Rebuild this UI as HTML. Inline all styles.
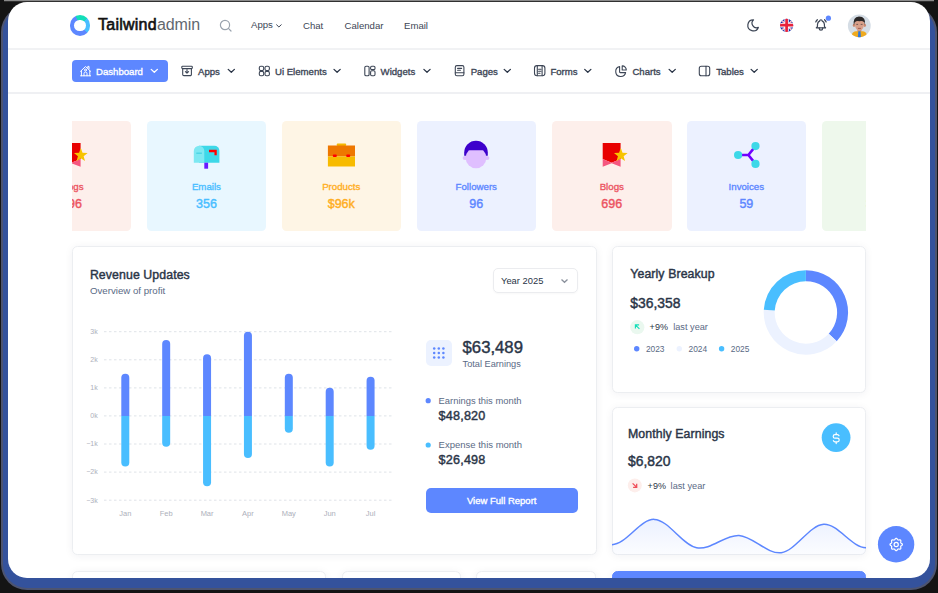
<!DOCTYPE html>
<html><head><meta charset="utf-8"><style>
*{margin:0;padding:0;box-sizing:border-box}
html,body{width:938px;height:593px;overflow:hidden;background:#141414;font-family:"Liberation Sans",sans-serif;color:#2a3547}
.band{position:absolute;left:3px;top:8px;width:932px;height:580px;border-radius:24px;background:#34529c;box-shadow:0 0 0 2px #4d5470}
.top{position:absolute;left:4px;top:0;width:930px;height:2px;background:linear-gradient(#8a8a8a 0 1px,#303030 1px 2px)}
.frame{position:absolute;left:8px;top:2px;width:922px;height:576px;border-radius:19px;background:#fff;overflow:hidden}
.pg{position:absolute;left:-8px;top:-2px;width:938px;height:593px}
.a{position:absolute}
.t{position:absolute;white-space:nowrap;line-height:1}
svg{position:absolute;overflow:visible}
.hdr{position:absolute;left:0;top:0;width:938px;height:50px;border-bottom:2px solid #f1f2f4}
.nav2{position:absolute;left:0;top:50px;width:938px;height:44px;background:#fff;border-bottom:2px solid #eff0f3}
.logo{position:absolute;left:69.5px;top:15.1px;width:20.6px;height:20.6px;border-radius:50%;background:conic-gradient(from -25deg,#13deb9 0 69deg,#49beff 69deg 160deg,#5d87ff 160deg 360deg)}
.logo:after{content:"";position:absolute;left:4.5px;top:4.5px;width:11.6px;height:11.6px;border-radius:50%;background:#fff}
.car{position:absolute;left:72px;top:121px;width:794px;height:110px;overflow:hidden}
.sc{position:absolute;top:0;width:119.5px;height:110px;border-radius:4.5px}
.sc .lb{position:absolute;left:0;width:100%;top:60px;text-align:center;font-size:9px;font-weight:700;line-height:1}
.sc .vl{position:absolute;left:0;width:100%;top:75px;text-align:center;font-size:12.8px;font-weight:700;line-height:1}
.sc svg{left:0;top:0}
.card{position:absolute;background:#fff;border:1px solid #eceef1;border-radius:5.5px;box-shadow:0 1px 8px rgba(30,40,60,0.06)}
</style></head><body>
<div class="band"></div><div class="top"></div>
<div class="frame"><div class="pg">
<div class="hdr"></div><div class="nav2"></div>
<div class="logo"></div>
<div class="t" style="left:98px;top:17px;font-size:16px;color:#111"><span style="letter-spacing:0.25px;-webkit-text-stroke:0.6px #111">Tailwind</span><span style="color:#62686f;letter-spacing:-0.1px">admin</span></div>
<svg style="left:219px;top:19px" width="14" height="14" viewBox="0 0 14 14"><circle cx="6" cy="6" r="4.6" fill="none" stroke="#9aa3ae" stroke-width="1.2"/><path d="M9.4 9.4 L12 12" stroke="#9aa3ae" stroke-width="1.2" stroke-linecap="round"/></svg>
<div class="t " style="left:251.0px;top:20.00px;font-size:9.6px;color:#3d4656;">Apps</div>
<svg style="left:275px;top:22.5px" width="8" height="6" viewBox="0 0 8 6"><path d="M1.3 1.5L3.9 4L6.5 1.5" fill="none" stroke="#3d4656" stroke-width="1"/></svg>
<div class="t " style="left:303.0px;top:21.00px;font-size:9.6px;color:#3d4656;">Chat</div>
<div class="t " style="left:344.5px;top:21.00px;font-size:9.6px;color:#3d4656;">Calendar</div>
<div class="t " style="left:404.0px;top:21.00px;font-size:9.6px;color:#3d4656;">Email</div>
<div class="a" style="left:72px;top:60px;width:96px;height:22px;border-radius:4px;background:#5d87ff"></div>
<div class="t " style="left:96.0px;top:67.00px;font-size:9.6px;color:#fff;-webkit-text-stroke:0.34px #fff;">Dashboard</div>
<div class="t " style="left:198.0px;top:67.00px;font-size:9.6px;color:#3d4656;-webkit-text-stroke:0.34px #3d4656;">Apps</div>
<div class="t " style="left:275.0px;top:67.00px;font-size:9.6px;color:#3d4656;-webkit-text-stroke:0.34px #3d4656;">Ui Elements</div>
<div class="t " style="left:380.6px;top:67.00px;font-size:9.6px;color:#3d4656;-webkit-text-stroke:0.34px #3d4656;">Widgets</div>
<div class="t " style="left:470.7px;top:67.00px;font-size:9.6px;color:#3d4656;-webkit-text-stroke:0.34px #3d4656;">Pages</div>
<div class="t " style="left:550.4px;top:67.00px;font-size:9.6px;color:#3d4656;-webkit-text-stroke:0.34px #3d4656;">Forms</div>
<div class="t " style="left:632.4px;top:67.00px;font-size:9.6px;color:#3d4656;-webkit-text-stroke:0.34px #3d4656;">Charts</div>
<div class="t " style="left:716.2px;top:67.00px;font-size:9.6px;color:#3d4656;-webkit-text-stroke:0.34px #3d4656;">Tables</div>
<div class="car">
<div class="sc" style="left:-60.3px;background:#fdefeb"><svg viewBox="0 0 119.5 110" width="119.5" height="110"><path d="M50.7 22H68.6V38L59.65 41.7L50.7 38Z" fill="#e80000"/><path d="M50.7 38L59.65 41.7L68.6 38V45.7L59.65 42.3L50.7 45.7Z" fill="#f5577f"/><path d="M68.80 27.00L70.56 31.77L75.65 31.98L71.65 35.13L73.03 40.02L68.80 37.20L64.57 40.02L65.95 35.13L61.95 31.98L67.04 31.77Z" fill="#f7c400"/></svg></div><div class="t lbx " style="left:-60.3px;width:119.5px;text-align:center;top:61.00px;font-size:9.7px;color:#ec5462;-webkit-text-stroke:0.34px #ec5462;">Blogs</div><div class="t " style="left:-60.3px;width:119.5px;text-align:center;top:77.00px;font-size:12.5px;color:#ec5462;-webkit-text-stroke:0.42px #ec5462;">696</div>
<div class="sc" style="left:74.7px;background:#e8f7ff"><svg viewBox="0 0 119.5 110" width="119.5" height="110"><path d="M52 24.8H67.4A5 5 0 0 1 72.4 29.8V41.7H52Z" fill="#3dd8e8"/><path d="M46.8 41.7V30.05A5.25 5.25 0 0 1 57.3 30.05V41.7Z" fill="#7de8f2"/><path d="M49.3 32.2H54.9" stroke="#4dd6e6" stroke-width="1.4"/><path d="M62 30H68.6V34.2" fill="none" stroke="#f00" stroke-width="2.3"/><rect x="57.3" y="41.7" width="3.8" height="6" fill="#6a1aff"/></svg></div><div class="t lbx " style="left:74.7px;width:119.5px;text-align:center;top:61.00px;font-size:9.7px;color:#49beff;-webkit-text-stroke:0.34px #49beff;">Emails</div><div class="t " style="left:74.7px;width:119.5px;text-align:center;top:77.00px;font-size:12.5px;color:#49beff;-webkit-text-stroke:0.42px #49beff;">356</div>
<div class="sc" style="left:209.5px;background:#fef5e5"><svg viewBox="0 0 119.5 110" width="119.5" height="110"><rect x="54.7" y="22.4" width="9.5" height="2.5" rx="1" fill="#f5b800"/><rect x="45.9" y="24.5" width="27.1" height="11" fill="#ee7700"/><rect x="45.9" y="35.5" width="27.1" height="10" fill="#f7bb00"/><rect x="50.8" y="33.4" width="4" height="2.6" rx="1" fill="#f00"/><rect x="64.2" y="33.4" width="4" height="2.6" rx="1" fill="#f00"/></svg></div><div class="t lbx " style="left:209.5px;width:119.5px;text-align:center;top:61.00px;font-size:9.7px;color:#ffae1f;-webkit-text-stroke:0.34px #ffae1f;">Products</div><div class="t " style="left:209.5px;width:119.5px;text-align:center;top:77.00px;font-size:12.5px;color:#ffae1f;-webkit-text-stroke:0.42px #ffae1f;">$96k</div>
<div class="sc" style="left:344.5px;background:#ecf1ff"><svg viewBox="0 0 119.5 110" width="119.5" height="110"><defs><clipPath id="fc"><rect x="40" y="29.5" width="40" height="30"/></clipPath></defs><g transform="translate(-0.6,-0.3)"><path d="M47.8 35V31.8A11.8 11.8 0 0 1 71.4 31.8V35Z" fill="#3d00cc"/><circle cx="59.6" cy="37.2" r="10.3" fill="#dfbfff" clip-path="url(#fc)"/><ellipse cx="48.6" cy="37.3" rx="2.4" ry="2.1" fill="#dfbfff"/><ellipse cx="70.6" cy="37.3" rx="2.4" ry="2.1" fill="#dfbfff"/></g></svg></div><div class="t lbx " style="left:344.5px;width:119.5px;text-align:center;top:61.00px;font-size:9.7px;color:#5d87ff;-webkit-text-stroke:0.34px #5d87ff;">Followers</div><div class="t " style="left:344.5px;width:119.5px;text-align:center;top:77.00px;font-size:12.5px;color:#5d87ff;-webkit-text-stroke:0.42px #5d87ff;">96</div>
<div class="sc" style="left:480px;background:#fdefeb"><svg viewBox="0 0 119.5 110" width="119.5" height="110"><path d="M50.7 22H68.6V38L59.65 41.7L50.7 38Z" fill="#e80000"/><path d="M50.7 38L59.65 41.7L68.6 38V45.7L59.65 42.3L50.7 45.7Z" fill="#f5577f"/><path d="M68.80 27.00L70.56 31.77L75.65 31.98L71.65 35.13L73.03 40.02L68.80 37.20L64.57 40.02L65.95 35.13L61.95 31.98L67.04 31.77Z" fill="#f7c400"/></svg></div><div class="t lbx " style="left:480.0px;width:119.5px;text-align:center;top:61.00px;font-size:9.7px;color:#ec5462;-webkit-text-stroke:0.34px #ec5462;">Blogs</div><div class="t " style="left:480.0px;width:119.5px;text-align:center;top:77.00px;font-size:12.5px;color:#ec5462;-webkit-text-stroke:0.42px #ec5462;">696</div>
<div class="sc" style="left:614.6px;background:#ecf1ff"><svg viewBox="0 0 119.5 110" width="119.5" height="110"><path d="M51.1 34H61.4L68.5 25.1M61.4 34L68.5 42.9" fill="none" stroke="#7000ff" stroke-width="2.6"/><circle cx="51.1" cy="34" r="4.1" fill="#3dd8e8"/><circle cx="68.5" cy="25.1" r="4.1" fill="#3dd8e8"/><circle cx="68.5" cy="42.9" r="4.1" fill="#3dd8e8"/></svg></div><div class="t lbx " style="left:614.6px;width:119.5px;text-align:center;top:61.00px;font-size:9.7px;color:#5d87ff;-webkit-text-stroke:0.34px #5d87ff;">Invoices</div><div class="t " style="left:614.6px;width:119.5px;text-align:center;top:77.00px;font-size:12.5px;color:#5d87ff;-webkit-text-stroke:0.42px #5d87ff;">59</div>
<div class="sc" style="left:749.7px;background:#eef8ec"></div><div class="t lbx " style="left:749.7px;width:119.5px;text-align:center;top:61.00px;font-size:9.7px;color:#13deb9;-webkit-text-stroke:0.34px #13deb9;">Sales</div><div class="t " style="left:749.7px;width:119.5px;text-align:center;top:77.00px;font-size:12.5px;color:#13deb9;-webkit-text-stroke:0.42px #13deb9;">3,650</div>
</div>
<div class="card" style="left:71.5px;top:246px;width:525.3px;height:309px"></div>
<div class="card" style="left:611.8px;top:246px;width:254.6px;height:146.6px"></div>
<div class="card" style="left:611.8px;top:407.4px;width:254.6px;height:147.6px"></div>
<div class="card" style="left:72px;top:570.5px;width:254px;height:60px"></div>
<div class="card" style="left:341.7px;top:570.5px;width:119px;height:60px"></div>
<div class="card" style="left:476.4px;top:570.5px;width:120px;height:60px"></div>
<div class="card" style="left:612.3px;top:570.5px;width:254px;height:60px;background:#5d87ff;border-color:#5d87ff"></div>
<div class="t " style="left:89.9px;top:269.00px;font-size:12.3px;color:#2a3547;-webkit-text-stroke:0.42px #2a3547;letter-spacing:0.1px;">Revenue Updates</div>
<div class="t " style="left:89.9px;top:286.00px;font-size:9.7px;color:#5a6a85;">Overview of profit</div>
<div class="a" style="left:492.5px;top:268.4px;width:85px;height:25px;border:1px solid #ebecef;border-radius:5px;box-shadow:0 1px 2px rgba(0,0,0,0.03)"></div>
<div class="t " style="left:501.0px;top:276.00px;font-size:9.4px;color:#2a3547;">Year 2025</div>
<svg style="left:560px;top:278px" width="9" height="6" viewBox="0 0 9 6"><path d="M1.5 1.5L4.5 4.3L7.5 1.5" fill="none" stroke="#8a919c" stroke-width="1.3"/></svg>
<svg style="left:0;top:0" width="938" height="593"><line x1="104" y1="331.7" x2="391.5" y2="331.7" stroke="#dfe3e8" stroke-width="1" stroke-dasharray="2.5 2.5"/><line x1="104" y1="359.8" x2="391.5" y2="359.8" stroke="#dfe3e8" stroke-width="1" stroke-dasharray="2.5 2.5"/><line x1="104" y1="387.9" x2="391.5" y2="387.9" stroke="#dfe3e8" stroke-width="1" stroke-dasharray="2.5 2.5"/><line x1="104" y1="415.9" x2="391.5" y2="415.9" stroke="#dfe3e8" stroke-width="1" stroke-dasharray="2.5 2.5"/><line x1="104" y1="444.0" x2="391.5" y2="444.0" stroke="#dfe3e8" stroke-width="1" stroke-dasharray="2.5 2.5"/><line x1="104" y1="472.1" x2="391.5" y2="472.1" stroke="#dfe3e8" stroke-width="1" stroke-dasharray="2.5 2.5"/><line x1="104" y1="500.2" x2="391.5" y2="500.2" stroke="#dfe3e8" stroke-width="1" stroke-dasharray="2.5 2.5"/><path d="M121.30 415.94V377.82A4 4 0 0 1 129.30 377.82V415.94Z" fill="#5d87ff"/><path d="M121.30 415.94V462.48A4 4 0 0 0 129.30 462.48V415.94Z" fill="#49beff"/><path d="M162.18 415.94V344.12A4 4 0 0 1 170.18 344.12V415.94Z" fill="#5d87ff"/><path d="M162.18 415.94V442.83A4 4 0 0 0 170.18 442.83V415.94Z" fill="#49beff"/><path d="M203.06 415.94V358.16A4 4 0 0 1 211.06 358.16V415.94Z" fill="#5d87ff"/><path d="M203.06 415.94V482.14A4 4 0 0 0 211.06 482.14V415.94Z" fill="#49beff"/><path d="M243.94 415.94V335.70A4 4 0 0 1 251.94 335.70V415.94Z" fill="#5d87ff"/><path d="M243.94 415.94V454.06A4 4 0 0 0 251.94 454.06V415.94Z" fill="#49beff"/><path d="M284.82 415.94V377.82A4 4 0 0 1 292.82 377.82V415.94Z" fill="#5d87ff"/><path d="M284.82 415.94V428.79A4 4 0 0 0 292.82 428.79V415.94Z" fill="#49beff"/><path d="M325.70 415.94V391.86A4 4 0 0 1 333.70 391.86V415.94Z" fill="#5d87ff"/><path d="M325.70 415.94V462.48A4 4 0 0 0 333.70 462.48V415.94Z" fill="#49beff"/><path d="M366.58 415.94V380.63A4 4 0 0 1 374.58 380.63V415.94Z" fill="#5d87ff"/><path d="M366.58 415.94V445.64A4 4 0 0 0 374.58 445.64V415.94Z" fill="#49beff"/></svg>
<div class="t " style="left:-2.3px;width:100px;text-align:right;top:328.00px;font-size:7px;color:#adb0bb;">3k</div>
<div class="t " style="left:-2.3px;width:100px;text-align:right;top:356.00px;font-size:7px;color:#adb0bb;">2k</div>
<div class="t " style="left:-2.3px;width:100px;text-align:right;top:384.00px;font-size:7px;color:#adb0bb;">1k</div>
<div class="t " style="left:-2.3px;width:100px;text-align:right;top:412.00px;font-size:7px;color:#adb0bb;">0k</div>
<div class="t " style="left:-2.3px;width:100px;text-align:right;top:440.00px;font-size:7px;color:#adb0bb;">&minus;1k</div>
<div class="t " style="left:-2.3px;width:100px;text-align:right;top:468.00px;font-size:7px;color:#adb0bb;">&minus;2k</div>
<div class="t " style="left:-2.3px;width:100px;text-align:right;top:497.00px;font-size:7px;color:#adb0bb;">&minus;3k</div>
<div class="t " style="left:105.3px;width:40px;text-align:center;top:510.00px;font-size:7.5px;color:#adb0bb;">Jan</div>
<div class="t " style="left:146.2px;width:40px;text-align:center;top:510.00px;font-size:7.5px;color:#adb0bb;">Feb</div>
<div class="t " style="left:187.1px;width:40px;text-align:center;top:510.00px;font-size:7.5px;color:#adb0bb;">Mar</div>
<div class="t " style="left:227.9px;width:40px;text-align:center;top:510.00px;font-size:7.5px;color:#adb0bb;">Apr</div>
<div class="t " style="left:268.8px;width:40px;text-align:center;top:510.00px;font-size:7.5px;color:#adb0bb;">May</div>
<div class="t " style="left:309.7px;width:40px;text-align:center;top:510.00px;font-size:7.5px;color:#adb0bb;">Jun</div>
<div class="t " style="left:350.6px;width:40px;text-align:center;top:510.00px;font-size:7.5px;color:#adb0bb;">Jul</div>
<div class="a" style="left:426px;top:339.8px;width:25.7px;height:26.6px;border-radius:5px;background:#ecf2ff"></div>
<svg style="left:0;top:0" width="938" height="593"><circle cx="434.2" cy="348.4" r="1.25" fill="#5d87ff"/><circle cx="434.2" cy="353.0" r="1.25" fill="#5d87ff"/><circle cx="434.2" cy="357.6" r="1.25" fill="#5d87ff"/><circle cx="438.8" cy="348.4" r="1.25" fill="#5d87ff"/><circle cx="438.8" cy="353.0" r="1.25" fill="#5d87ff"/><circle cx="438.8" cy="357.6" r="1.25" fill="#5d87ff"/><circle cx="443.4" cy="348.4" r="1.25" fill="#5d87ff"/><circle cx="443.4" cy="353.0" r="1.25" fill="#5d87ff"/><circle cx="443.4" cy="357.6" r="1.25" fill="#5d87ff"/></svg>
<div class="t " style="left:462.6px;top:340.00px;font-size:16.7px;color:#2a3547;-webkit-text-stroke:0.42px #2a3547;">$63,489</div>
<div class="t " style="left:462.6px;top:360.00px;font-size:9.2px;color:#5a6a85;">Total Earnings</div>
<svg style="left:0;top:0" width="938" height="593"><circle cx="428.2" cy="400.7" r="2.6" fill="#5d87ff"/><circle cx="428.2" cy="445" r="2.6" fill="#49beff"/></svg>
<div class="t " style="left:438.6px;top:396.00px;font-size:9.4px;color:#5a6a85;">Earnings this month</div>
<div class="t " style="left:438.6px;top:410.00px;font-size:12.6px;color:#2a3547;-webkit-text-stroke:0.42px #2a3547;letter-spacing:0.2px;">$48,820</div>
<div class="t " style="left:438.6px;top:440.00px;font-size:9.5px;color:#5a6a85;">Expense this month</div>
<div class="t " style="left:438.6px;top:454.00px;font-size:12.6px;color:#2a3547;-webkit-text-stroke:0.42px #2a3547;letter-spacing:0.2px;">$26,498</div>
<div class="a" style="left:425.7px;top:487.5px;width:152px;height:25.8px;border-radius:5px;background:#5d87ff"></div>
<div class="t " style="left:401.7px;width:200px;text-align:center;top:496.00px;font-size:9.5px;color:#fff;-webkit-text-stroke:0.34px #fff;">View Full Report</div>
<div class="t " style="left:630.3px;top:268.00px;font-size:12.3px;color:#2a3547;-webkit-text-stroke:0.42px #2a3547;letter-spacing:0.1px;">Yearly Breakup</div>
<div class="t " style="left:630.3px;top:297.00px;font-size:13.9px;color:#2a3547;-webkit-text-stroke:0.42px #2a3547;">$36,358</div>
<svg style="left:0;top:0" width="938" height="593"><circle cx="637.3" cy="327.2" r="7.1" fill="#eaf8ef"/><path d="M635.4 328.6V324.9H639.1M635.4 324.9L639.4 328.9" stroke="#13deb9" stroke-width="1.15" fill="none"/></svg>
<div class="t " style="left:649.6px;top:323.00px;font-size:9px;color:#2a3547;letter-spacing:0.1px;">+9%</div>
<div class="t " style="left:673.2px;top:323.00px;font-size:9.2px;color:#5a6a85;">last year</div>
<svg style="left:0;top:0" width="938" height="593"><circle cx="636.7" cy="348.8" r="2.7" fill="#5d87ff"/><circle cx="679.3" cy="348.8" r="2.7" fill="#ecf2ff"/><circle cx="721.6" cy="348.8" r="2.7" fill="#49beff"/></svg>
<div class="t " style="left:645.9px;top:345.00px;font-size:8.4px;color:#5a6a85;">2023</div>
<div class="t " style="left:688.5px;top:345.00px;font-size:8.4px;color:#5a6a85;">2024</div>
<div class="t " style="left:730.8px;top:345.00px;font-size:8.4px;color:#5a6a85;">2025</div>
<svg style="left:0;top:0" width="938" height="593"><path d="M805.90 270.20A42.2 42.2 0 0 1 836.76 341.18L828.72 333.68A31.2 31.2 0 0 0 805.90 281.20Z" fill="#5d87ff"/><path d="M836.76 341.18A42.2 42.2 0 0 1 763.78 309.82L774.76 310.50A31.2 31.2 0 0 0 828.72 333.68Z" fill="#ecf2ff"/><path d="M763.78 309.82A42.2 42.2 0 0 1 805.90 270.20L805.90 281.20A31.2 31.2 0 0 0 774.76 310.50Z" fill="#49beff"/></svg>
<div class="t " style="left:628.0px;top:428.00px;font-size:12.3px;color:#2a3547;-webkit-text-stroke:0.42px #2a3547;letter-spacing:0.1px;">Monthly Earnings</div>
<div class="t " style="left:628.0px;top:455.00px;font-size:13.9px;color:#2a3547;-webkit-text-stroke:0.42px #2a3547;">$6,820</div>
<svg style="left:0;top:0" width="938" height="593"><circle cx="634.8" cy="485.4" r="7" fill="#fdeeeb"/><path d="M632.6 483.4L636.7 487.3M633.1 487.3H636.7V483.7" stroke="#f0505a" stroke-width="1.3" fill="none"/></svg>
<div class="t " style="left:647.6px;top:482.00px;font-size:9px;color:#2a3547;letter-spacing:0.1px;">+9%</div>
<div class="t " style="left:670.6px;top:482.00px;font-size:9.2px;color:#5a6a85;">last year</div>
<svg style="left:0;top:0" width="938" height="593"><circle cx="836.1" cy="437.6" r="14.4" fill="#49beff"/></svg>
<div class="a" style="left:612px;top:408px;width:254px;height:147px;border-radius:5.5px;overflow:hidden"><svg style="left:-612px;top:-408px" width="938" height="593"><defs><linearGradient id="ag" x1="0" y1="0" x2="0" y2="1"><stop offset="0" stop-color="#5d87ff" stop-opacity="0.12"/><stop offset="1" stop-color="#5d87ff" stop-opacity="0.02"/></linearGradient></defs><path d="M612.00 544.68C626.11 544.68 640.22 518.86 654.33 519.38C668.44 519.89 682.55 545.09 696.66 547.76C710.77 550.43 724.88 534.60 738.99 535.42C753.10 536.24 767.21 554.55 781.32 552.70C795.43 550.85 809.54 525.14 823.65 524.31C837.76 523.49 851.87 547.76 865.98 547.76L866 555L612 555Z" fill="url(#ag)"/><path d="M612.00 544.68C626.11 544.68 640.22 518.86 654.33 519.38C668.44 519.89 682.55 545.09 696.66 547.76C710.77 550.43 724.88 534.60 738.99 535.42C753.10 536.24 767.21 554.55 781.32 552.70C795.43 550.85 809.54 525.14 823.65 524.31C837.76 523.49 851.87 547.76 865.98 547.76" fill="none" stroke="#5d87ff" stroke-width="1.5"/></svg></div>
<svg style="left:0;top:0" width="938" height="593"><circle cx="896.1" cy="544.3" r="18.2" fill="#5d87ff"/></svg>
<svg style="left:0;top:0" width="938" height="593"><g fill="none" stroke="#fff" stroke-width="1.0" stroke-linecap="round" stroke-linejoin="round"><path d="M80.6 75.8H90.6M81.4 75.8V71M89.8 75.8V71M80.6 71.3L85.5 66.5L90.6 71.3M87.8 67.6V66.4H89V68.8"/><circle cx="85.5" cy="70" r="1"/><path d="M84 75.8V73.5A1.5 1.5 0 0 1 87 73.5V75.8"/></g></svg>
<svg style="left:0;top:0" width="938" height="593"><g fill="none" stroke="#3d4656" stroke-width="1.1" stroke-linecap="round" stroke-linejoin="round"><rect x="181.8" y="66.2" width="10.5" height="2.4" rx="0.8"/><path d="M182.7 68.6V74.4A1.2 1.2 0 0 0 183.9 75.6H190.2A1.2 1.2 0 0 0 191.4 74.4V68.6M187 69.6V73M185.4 71.6L187 73.2L188.6 71.6"/></g></svg>
<svg style="left:0;top:0" width="938" height="593"><g fill="none" stroke="#3d4656" stroke-width="1.1" stroke-linecap="round" stroke-linejoin="round"><rect x="259.3" y="66.2" width="4.4" height="4.4" rx="1.5"/><rect x="265" y="66.2" width="4.4" height="4.4" rx="1.5"/><rect x="259.3" y="71.4" width="4.4" height="4.4" rx="1.5"/><rect x="265" y="71.4" width="4.4" height="4.4" rx="1.5"/></g></svg>
<svg style="left:0;top:0" width="938" height="593"><g fill="none" stroke="#3d4656" stroke-width="1.1" stroke-linecap="round" stroke-linejoin="round"><rect x="364.8" y="66.2" width="4.3" height="9.5" rx="1.3"/><rect x="370.6" y="66.2" width="4.4" height="3.4" rx="1.2"/><rect x="370.6" y="70.8" width="4.4" height="4.9" rx="1.2"/></g></svg>
<svg style="left:0;top:0" width="938" height="593"><g fill="none" stroke="#3d4656" stroke-width="1.1" stroke-linecap="round" stroke-linejoin="round"><rect x="455.3" y="65.6" width="8.6" height="10.2" rx="1.6"/><path d="M455.3 72.8H463.9M457.6 68.4H461.6M457.6 70.2H460.4"/></g></svg>
<svg style="left:0;top:0" width="938" height="593"><g fill="none" stroke="#3d4656" stroke-width="1.1" stroke-linecap="round" stroke-linejoin="round"><rect x="534.5" y="65.6" width="10.4" height="10.2" rx="2.5"/><path d="M537.3 65.8V75.6M542.1 65.8V75.6M538.6 69.3H540.8M538.6 71.2H540.8M538.6 73.3H540"/></g></svg>
<svg style="left:0;top:0" width="938" height="593"><g fill="none" stroke="#3d4656" stroke-width="1.1" stroke-linecap="round" stroke-linejoin="round"><path d="M619.6 66.6A5 5 0 1 0 625.6 72.6H620.3A0.7 0.7 0 0 1 619.6 71.9Z"/><path d="M622.2 65.9A4 4 0 0 1 626.3 70H622.2Z"/></g></svg>
<svg style="left:0;top:0" width="938" height="593"><g fill="none" stroke="#3d4656" stroke-width="1.1" stroke-linecap="round" stroke-linejoin="round"><rect x="699.3" y="66.3" width="10.4" height="9.4" rx="2"/><path d="M706 66.3V75.7"/></g></svg>
<svg style="left:0;top:0" width="938" height="593"><g fill="none" stroke="#fff" stroke-width="1.3" stroke-linecap="round" stroke-linejoin="round"><path d="M151.2 69.4L154.3 72.3L157.4 69.4"/></g></svg>
<svg style="left:0;top:0" width="938" height="593"><g fill="none" stroke="#2a3547" stroke-width="1.3" stroke-linecap="round" stroke-linejoin="round"><path d="M228.2 69.4L231.3 72.3L234.4 69.4"/></g></svg>
<svg style="left:0;top:0" width="938" height="593"><g fill="none" stroke="#2a3547" stroke-width="1.3" stroke-linecap="round" stroke-linejoin="round"><path d="M334.0 69.4L337.1 72.3L340.2 69.4"/></g></svg>
<svg style="left:0;top:0" width="938" height="593"><g fill="none" stroke="#2a3547" stroke-width="1.3" stroke-linecap="round" stroke-linejoin="round"><path d="M423.9 69.4L427.0 72.3L430.1 69.4"/></g></svg>
<svg style="left:0;top:0" width="938" height="593"><g fill="none" stroke="#2a3547" stroke-width="1.3" stroke-linecap="round" stroke-linejoin="round"><path d="M504.2 69.4L507.3 72.3L510.4 69.4"/></g></svg>
<svg style="left:0;top:0" width="938" height="593"><g fill="none" stroke="#2a3547" stroke-width="1.3" stroke-linecap="round" stroke-linejoin="round"><path d="M584.7 69.4L587.8 72.3L590.9 69.4"/></g></svg>
<svg style="left:0;top:0" width="938" height="593"><g fill="none" stroke="#2a3547" stroke-width="1.3" stroke-linecap="round" stroke-linejoin="round"><path d="M669.1 69.4L672.2 72.3L675.3 69.4"/></g></svg>
<svg style="left:0;top:0" width="938" height="593"><g fill="none" stroke="#2a3547" stroke-width="1.3" stroke-linecap="round" stroke-linejoin="round"><path d="M751.1 69.4L754.2 72.3L757.3 69.4"/></g></svg>
<svg style="left:745.6px;top:18.4px" width="14.6" height="14.6" viewBox="0 0 24 24"><path d="M12 3c.132 0 .263 0 .393 0a7.5 7.5 0 0 0 7.92 12.446a9 9 0 1 1 -8.313 -12.454z" fill="none" stroke="#3d4656" stroke-width="2" stroke-linejoin="round"/></svg>
<svg style="left:0;top:0" width="938" height="593"><defs><clipPath id="fl"><circle cx="786.6" cy="25.4" r="6.6"/></clipPath></defs><g clip-path="url(#fl)"><rect x="779" y="18" width="16" height="16" fill="#1a2ea8"/><path d="M779 18L795 33M795 18L779 33" stroke="#fff" stroke-width="1.7"/><path d="M779 18L795 33M795 18L779 33" stroke="#e8213b" stroke-width="0.5"/><path d="M786.6 18V33M779 25.2H795" stroke="#fff" stroke-width="4.4"/><path d="M786.6 18V33M779 25.2H795" stroke="#e8213b" stroke-width="2.7"/></g></svg>
<svg style="left:813.5px;top:18.4px" width="13.9" height="13.9" viewBox="0 0 24 24"><g fill="none" stroke="#3d4656" stroke-width="2.1" stroke-linecap="round" stroke-linejoin="round"><path d="M10 5a2 2 0 0 1 4 0a7 7 0 0 1 4 6v3a4 4 0 0 0 2 3h-16a4 4 0 0 0 2 -3v-3a7 7 0 0 1 4 -6"/><path d="M9 17v1a3 3 0 0 0 6 0v-1"/><path d="M21 6.727a11.05 11.05 0 0 0 -2.794 -3.727"/><path d="M3 6.727a11.05 11.05 0 0 1 2.792 -3.727"/></g></svg>
<svg style="left:0;top:0" width="938" height="593"><circle cx="828.4" cy="18.2" r="2.6" fill="#5d87ff"/></svg>
<svg style="left:0;top:0" width="938" height="593"><defs><clipPath id="av"><circle cx="859.3" cy="25.8" r="11.4"/></clipPath></defs><g clip-path="url(#av)"><rect x="847" y="14" width="25" height="25" fill="#d5dde5"/><rect x="857.4" y="28" width="4" height="4" fill="#c98d76"/><path d="M852 40V34.2Q852.6 31.6 856 31.2H862.6Q866 31.6 866.6 34.2V40Z" fill="#efaa1e"/><path d="M858.3 31.2H860.5L861.1 40H857.7Z" fill="#2f78dd"/><ellipse cx="854" cy="25.2" rx="1.2" ry="1.7" fill="#c98a72"/><ellipse cx="864.8" cy="25.2" rx="1.2" ry="1.7" fill="#c98a72"/><path d="M854.6 21Q854.4 30.4 859.4 30.7Q864.4 30.4 864.3 21Z" fill="#d9a08a"/><path d="M853.9 25.6Q852.4 17 859 16.4Q866.2 16.4 865 25.2L864.3 22.2Q862 20.4 859.5 21.3Q857 20.2 854.8 22.2Z" fill="#2b2828"/><path d="M856.3 24.4H858.1M860.7 24.4H862.5" stroke="#5a4a48" stroke-width="0.8"/><path d="M857.9 28.4H860.9" stroke="#9a5448" stroke-width="0.9"/></g></svg>
<svg style="left:828.7px;top:430.6px" width="14.4" height="14.4" viewBox="0 0 24 24"><path d="M16.7 8a3 3 0 0 0 -2.7 -2h-4a3 3 0 0 0 0 6h4a3 3 0 0 1 0 6h-4a3 3 0 0 1 -2.7 -2M12 3v3m0 12v3" fill="none" stroke="#fff" stroke-width="2" stroke-linecap="round" stroke-linejoin="round"/></svg>
<svg style="left:0;top:0" width="938" height="593"><path d="M896.20 538.30L896.60 538.40L896.97 538.68L897.28 539.06L897.55 539.45L897.80 539.78L898.08 539.97L898.41 540.03L898.81 539.98L899.28 539.89L899.78 539.84L900.23 539.90L900.58 540.12L900.80 540.47L900.86 540.92L900.81 541.42L900.72 541.89L900.67 542.29L900.73 542.62L900.92 542.90L901.25 543.15L901.64 543.42L902.02 543.73L902.30 544.10L902.40 544.50L902.30 544.90L902.02 545.27L901.64 545.58L901.25 545.85L900.92 546.10L900.73 546.38L900.67 546.71L900.72 547.11L900.81 547.58L900.86 548.08L900.80 548.53L900.58 548.88L900.23 549.10L899.78 549.16L899.28 549.11L898.81 549.02L898.41 548.97L898.08 549.03L897.80 549.22L897.55 549.55L897.28 549.94L896.97 550.32L896.60 550.60L896.20 550.70L895.80 550.60L895.43 550.32L895.12 549.94L894.85 549.55L894.60 549.22L894.32 549.03L893.99 548.97L893.59 549.02L893.12 549.11L892.62 549.16L892.17 549.10L891.82 548.88L891.60 548.53L891.54 548.08L891.59 547.58L891.68 547.11L891.73 546.71L891.67 546.38L891.48 546.10L891.15 545.85L890.76 545.58L890.38 545.27L890.10 544.90L890.00 544.50L890.10 544.10L890.38 543.73L890.76 543.42L891.15 543.15L891.48 542.90L891.67 542.62L891.73 542.29L891.68 541.89L891.59 541.42L891.54 540.92L891.60 540.47L891.82 540.12L892.17 539.90L892.62 539.84L893.12 539.89L893.59 539.98L893.99 540.03L894.32 539.97L894.60 539.78L894.85 539.45L895.12 539.06L895.43 538.68L895.80 538.40Z" fill="none" stroke="#fff" stroke-width="1.2" stroke-linejoin="round"/><circle cx="896.2" cy="544.5" r="2.1" fill="none" stroke="#fff" stroke-width="1.2"/></svg>
</div></div>
</body></html>
